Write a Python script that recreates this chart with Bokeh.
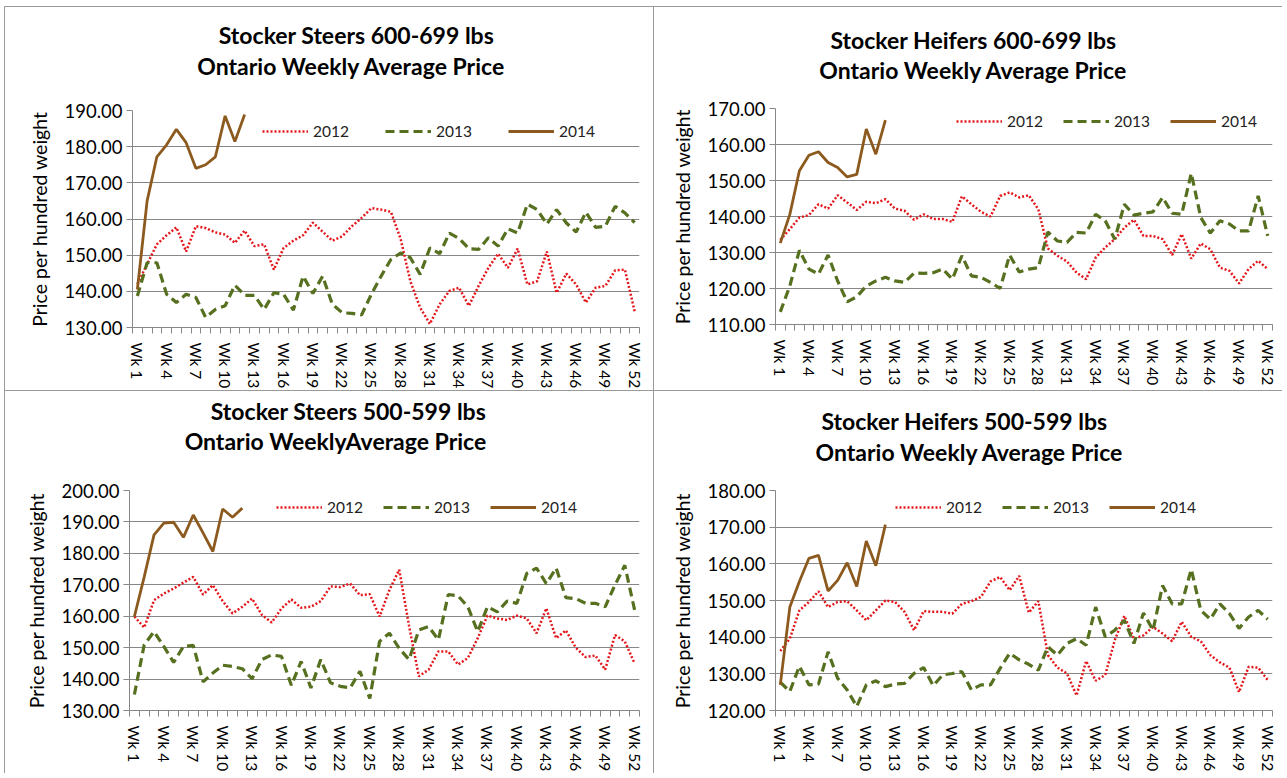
from bokeh.plotting import figure
from bokeh.models import Range1d, FixedTicker, NumeralTickFormatter, Legend, LegendItem
from bokeh.core.properties import value
from bokeh.layouts import column, row
from bokeh.embed import file_html
from bokeh.resources import INLINE

# ---------------- data ----------------
weeks = list(range(1, 53))
weeks_2014 = list(range(1, 13))
tick_weeks = list(range(1, 53, 3))
tick_labels = ["Wk %d" % w for w in tick_weeks]
series_names = ["2012", "2013", "2014"]
y_title = "Price per hundred weight"

titles_steers_600 = ["Stocker Steers 600-699 lbs", "Ontario Weekly Average Price"]
titles_heifers_600 = ["Stocker Heifers 600-699 lbs", "Ontario Weekly Average Price"]
titles_steers_500 = ["Stocker Steers 500-599 lbs", "Ontario WeeklyAverage Price"]
titles_heifers_500 = ["Stocker Heifers 500-599 lbs", "Ontario Weekly Average  Price"]

steers600_2012 = [142, 147.5, 153, 155.5, 157.7, 151, 158, 157.5, 156.3, 155.7, 153.4, 156.8, 152.5,
                  153, 146, 152, 154, 155.5, 159, 156.5, 154, 155.2, 158, 160.3, 163, 162.6, 162,
                  154.5, 142.8, 135.5, 131, 136.4, 140.1, 141, 136, 141.5, 146.5, 150.4, 146.5,
                  151.8, 141.9, 142.8, 151, 139.6, 144.9, 141.9, 136.9, 141, 141.5, 145.8, 146, 134.5]
steers600_2013 = [138.7, 147.9, 147.9, 139.2, 136.9, 139.2, 138.3, 132.8, 135, 136, 141.7, 138.9,
                  138.9, 135, 139.6, 139.2, 134.8, 144.2, 139.4, 144.2, 136.4, 134.1, 133.9, 133.5,
                  139.2, 144.2, 148.8, 150.6, 149.3, 144.7, 152, 150.4, 156.1, 154.6, 151.8, 151.6,
                  154.8, 152.5, 157.3, 156.1, 164.1, 162.6, 158.6, 162.6, 158.9, 156.4, 161.9, 157.7,
                  158, 163.5, 161.7, 159]
steers600_2014 = [140.5, 165, 177.2, 180.5, 184.8, 181.1, 174, 175, 177.2, 188.5, 181.4, 188.9]

heifers600_2012 = [133.5, 136.5, 139.7, 140.4, 143.4, 142.2, 145.9, 143.9, 141.8, 144.1, 143.7, 144.8,
                   142.2, 141.6, 139.1, 140.6, 139.3, 139.3, 138.5, 145.6, 143.4, 141.3, 140, 145.7,
                   146.7, 145.3, 145.9, 142, 131.1, 129.1, 127.5, 124.4, 122.6, 128.6, 131.4, 133.7,
                   136.9, 139.1, 134.6, 134.6, 133.7, 129.3, 135.1, 128.3, 132.5, 130.9, 125.8, 124.9,
                   121.4, 125.4, 127.7, 125.4]
heifers600_2013 = [113.5, 120.7, 130.6, 125.4, 124, 129.3, 122.1, 116.3, 117.7, 120.7, 122.1, 123.1,
                   122.1, 121.7, 124.3, 124.2, 124.4, 125.4, 122.6, 129.1, 123.5, 123.1, 121.7, 120,
                   129.3, 124.6, 125.4, 125.8, 135.7, 133.2, 132.8, 135.6, 135.4, 140.6, 138.8, 133.7,
                   143.4, 140.4, 140.9, 141.3, 145.3, 140.9, 140.6, 152, 139.7, 135.4, 138.8, 137.9,
                   136, 136, 145.7, 134.6]
heifers600_2014 = [132.6, 140.6, 152.7, 157, 158, 155, 153.6, 151, 151.7, 164.3, 157.3, 166.8]

steers500_2012 = [159.9, 156.4, 165.1, 167.2, 168.8, 170.7, 172.5, 166.9, 169.9, 164.8, 160.9, 163,
                  165.6, 160.4, 158, 162.5, 165.3, 162.7, 163, 164.8, 169.5, 169.3, 170.4, 166.7,
                  167, 159.9, 168.3, 174.8, 157, 140.9, 143, 148.8, 148.8, 144.6, 146.7, 153, 160.2,
                  159.3, 158.8, 160.2, 159.3, 154.6, 162.5, 153, 155.5, 150, 147, 147.5, 143, 154,
                  152, 145]
steers500_2013 = [135.1, 150.9, 155.1, 150.4, 145.3, 150.4, 150.7, 139.1, 141.9, 144.4, 144, 143.3,
                  140.1, 146.2, 147.7, 147.2, 138, 145.6, 137.2, 146.2, 138.8, 137.7, 137.2, 142.5,
                  133.8, 152, 154.6, 149.8, 146.2, 155.6, 156.7, 152.5, 166.9, 166.5, 163, 155.1,
                  163, 161.4, 164.8, 164.1, 173.6, 175.3, 170.4, 175.3, 165.9, 165.6, 164.1, 164.1,
                  163, 169.9, 176.2, 162]
steers500_2014 = [159.9, 172.5, 185.9, 189.6, 189.9, 185.1, 192.2, 186.5, 180.6, 194.1, 191.5, 194.4]

heifers500_2012 = [136.2, 139.6, 147.3, 149.6, 152.5, 148.2, 149.6, 149.8, 147.3, 144.6, 147.3, 150,
                   149.6, 146.9, 141.9, 147.1, 146.9, 146.9, 146.4, 149.1, 149.8, 151, 155.2, 156.4,
                   152.8, 156.7, 146.7, 149.8, 135.1, 131.7, 130.1, 124.1, 133.5, 128.1, 129.7, 139.2,
                   145.8, 139.5, 140.5, 142.8, 141, 138.9, 144.2, 140.1, 138.9, 135.1, 133.1, 131.7,
                   125, 131.9, 131.7, 128.3]
heifers500_2013 = [127.7, 125.2, 132.1, 127, 127.2, 136, 128.8, 125.6, 121.1, 127, 128.1, 126.5,
                   127.2, 127.4, 130.1, 131.7, 126.8, 129.7, 130.1, 130.6, 125.6, 127, 127, 131.5,
                   135.6, 133.8, 132.6, 131, 137.4, 135.1, 138.3, 139.6, 137.8, 148.2, 140.1, 141.9,
                   144.6, 138.3, 146.6, 141.9, 154.1, 149.1, 149.1, 158.5, 147.3, 144.9, 149.1, 146.4,
                   142.4, 145.5, 147.3, 144.9]
heifers500_2014 = [127, 148.2, 155.2, 161.5, 162.3, 152.6, 155.5, 160.3, 153.8, 166.2, 159.5, 170.7]

# ---------------- style ----------------
COL_2012 = "#e3161b"
COL_2013 = "#56701f"
COL_2014 = "#8c5a1e"
GRID = "#878787"
FONT = "Lato"
TITLE_H = 80
PANEL_LINE = {"box-shadow": "-1px -1px 0 0 #9a9a9a"}


def make_panel(titles, title_pos, d2012, d2013, d2014, ymin, ymax,
               page, size, frame, legend_pos, legend_spacing):
    px0, py0 = page
    W, H = size
    fl, fr, ft, fb = frame
    bl, br = fl - px0, px0 + W - fr

    # title strip: same horizontal frame as the chart below; x range in page pixels
    t = figure(width=W, height=TITLE_H, x_range=Range1d(fl, fr),
               y_range=Range1d(py0 + TITLE_H, py0),
               output_backend="svg", toolbar_location=None,
               min_border_left=bl, min_border_right=br, min_border_top=0, min_border_bottom=0,
               x_axis_location=None, y_axis_location=None)
    t.grid.visible = False
    t.outline_line_color = None
    t.text(x=[tx for tx, _ in title_pos], y=[ty - 1 for _, ty in title_pos],
           text=titles, text_font=value(FONT), text_font_style="bold", text_font_size="23px",
           text_align="center", text_baseline="middle", text_color="black")

    top = py0 + TITLE_H
    PH = H - TITLE_H
    p = figure(width=W, height=PH, x_range=Range1d(0.5, 52.5), y_range=Range1d(ymin, ymax),
               output_backend="svg", toolbar_location=None,
               min_border_left=bl, min_border_right=br,
               min_border_top=ft - top, min_border_bottom=top + PH - fb)
    p.outline_line_color = None
    p.xgrid.visible = False
    p.ygrid.grid_line_color = GRID
    p.ygrid.grid_line_width = 1

    # y axis
    yax = p.yaxis[0]
    yax.ticker = FixedTicker(ticks=list(range(ymin, ymax + 1, 10)))
    yax.formatter = NumeralTickFormatter(format="0.00")
    yax.axis_line_color = GRID
    yax.major_tick_line_color = GRID
    yax.major_tick_out = 6
    yax.major_tick_in = 0
    yax.minor_tick_line_color = None
    yax.major_label_text_font = FONT
    yax.major_label_text_font_size = "18.5px"
    yax.major_label_text_color = "black"
    yax.major_label_standoff = 4
    yax.axis_label = y_title
    yax.axis_label_text_font = FONT
    yax.axis_label_text_font_size = "19.5px"
    yax.axis_label_text_font_style = "normal"
    yax.axis_label_text_color = "black"
    yax.axis_label_standoff = 10

    # x axis
    xax = p.xaxis[0]
    xax.ticker = FixedTicker(ticks=tick_weeks, minor_ticks=[w + 0.5 for w in range(0, 53)])
    xax.major_label_overrides = {w: lab for w, lab in zip(tick_weeks, tick_labels)}
    xax.major_label_orientation = "vertical"
    xax.axis_line_color = GRID
    xax.major_tick_line_color = None
    xax.major_tick_out = 6
    xax.major_tick_in = 0
    xax.minor_tick_line_color = GRID
    xax.minor_tick_out = 6
    xax.minor_tick_in = 0
    xax.major_label_text_font = FONT
    xax.major_label_text_font_size = "15.5px"
    xax.major_label_text_color = "black"
    xax.major_label_standoff = 9

    r12 = p.line(weeks, d2012, line_color=COL_2012, line_width=2.5, line_dash="2 2")
    r13 = p.line(weeks, d2013, line_color=COL_2013, line_width=3.2, line_dash="9 5")
    r14 = p.line(weeks_2014, d2014, line_color=COL_2014, line_width=2.8)

    lx, lcy = legend_pos
    legend = Legend(items=[LegendItem(label=series_names[0], renderers=[r12]),
                           LegendItem(label=series_names[1], renderers=[r13]),
                           LegendItem(label=series_names[2], renderers=[r14])],
                    orientation="horizontal", location=(lx - fl, fb - lcy - 10),
                    glyph_width=46, glyph_height=20, label_height=20, label_standoff=5,
                    spacing=legend_spacing, padding=0, margin=0,
                    border_line_color=None, background_fill_alpha=0,
                    label_text_font=FONT, label_text_font_size="15.5px",
                    label_text_color="#222222")
    p.add_layout(legend)
    return column(t, p, styles=PANEL_LINE)


# page geometry of the reference (layout origin at x=5, y=7); title positions = line centres
p1 = make_panel(titles_steers_600, [(356, 35), (351, 66)],
                steers600_2012, steers600_2013, steers600_2014, 130, 190,
                page=(5, 7), size=(649, 384), frame=(132, 639, 110, 328),
                legend_pos=(262, 132), legend_spacing=36)
p2 = make_panel(titles_heifers_600, [(973, 40), (973, 70)],
                heifers600_2012, heifers600_2013, heifers600_2014, 110, 170,
                page=(654, 7), size=(629, 384), frame=(775, 1272, 108, 324),
                legend_pos=(956, 121), legend_spacing=20)
p3 = make_panel(titles_steers_500, [(348, 411), (335, 441)],
                steers500_2012, steers500_2013, steers500_2014, 130, 200,
                page=(5, 391), size=(649, 383), frame=(129, 639, 490, 711),
                legend_pos=(276, 508), legend_spacing=20)
p4 = make_panel(titles_heifers_500, [(964, 421), (972, 452)],
                heifers500_2012, heifers500_2013, heifers500_2014, 120, 180,
                page=(654, 391), size=(629, 383), frame=(775, 1272, 490, 711),
                legend_pos=(895, 508), legend_spacing=20)

layout = column(row(p1, p2), row(p3, p4), margin=(7, 0, 0, 5))
open("out.html", "w").write(file_html(layout, INLINE))
